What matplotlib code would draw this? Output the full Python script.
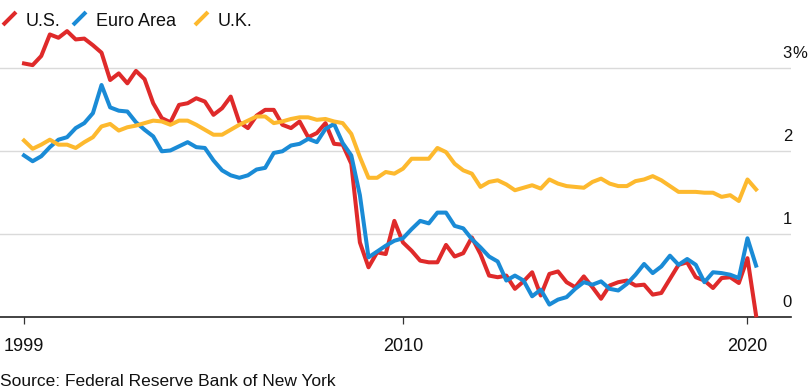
import numpy as np
import matplotlib
matplotlib.use("Agg")
import matplotlib.pyplot as plt
from matplotlib.lines import Line2D
from matplotlib.transforms import Affine2D

plt.rcParams["font.family"] = ["Liberation Sans", "DejaVu Sans"]

# quarterly readings, 1999 Q1 .. 2020 Q2
start_year = 1999
us = [3.06, 3.04, 3.15, 3.41, 3.37, 3.45, 3.35, 3.36, 3.28, 3.19, 2.86, 2.94, 2.82, 2.97, 2.87,
      2.58, 2.40, 2.35, 2.56, 2.58, 2.64, 2.60, 2.44, 2.52, 2.66, 2.35, 2.28, 2.43, 2.50,
      2.50, 2.32, 2.28, 2.36, 2.17, 2.22, 2.34, 2.09, 2.08, 1.85, 0.90, 0.60, 0.78, 0.76, 1.16,
      0.90, 0.80, 0.68, 0.66, 0.66, 0.87, 0.73, 0.77, 0.96, 0.76, 0.50, 0.48, 0.50, 0.34,
      0.43, 0.54, 0.26, 0.52, 0.55, 0.42, 0.36, 0.49, 0.36, 0.22, 0.38, 0.42, 0.44, 0.38,
      0.39, 0.27, 0.29, 0.46, 0.63, 0.66, 0.48, 0.44, 0.35, 0.47, 0.48, 0.41, 0.71, 0.02]
euro = [1.95, 1.88, 1.94, 2.05, 2.14, 2.17, 2.28, 2.34, 2.46, 2.80, 2.53, 2.49, 2.48, 2.35, 2.26,
        2.18, 2.00, 2.01, 2.06, 2.11, 2.05, 2.04, 1.89, 1.77, 1.71, 1.68, 1.71, 1.78, 1.80,
        1.98, 2.00, 2.07, 2.09, 2.15, 2.11, 2.27, 2.33, 2.10, 1.95, 1.47, 0.72, 0.79, 0.86, 0.92,
        0.95, 1.06, 1.16, 1.13, 1.26, 1.26, 1.10, 1.07, 0.94, 0.84, 0.73, 0.67, 0.44, 0.50,
        0.44, 0.25, 0.33, 0.15, 0.21, 0.24, 0.34, 0.42, 0.39, 0.43, 0.34, 0.32, 0.40, 0.51,
        0.64, 0.53, 0.61, 0.74, 0.63, 0.70, 0.63, 0.42, 0.54, 0.53, 0.51, 0.47, 0.95, 0.62]
uk = [2.13, 2.03, 2.08, 2.14, 2.08, 2.08, 2.04, 2.11, 2.17, 2.30, 2.33, 2.25, 2.29, 2.31, 2.34,
      2.37, 2.36, 2.32, 2.37, 2.37, 2.32, 2.26, 2.20, 2.20, 2.26, 2.32, 2.37, 2.42, 2.42,
      2.34, 2.36, 2.39, 2.41, 2.41, 2.38, 2.39, 2.36, 2.34, 2.21, 1.93, 1.68, 1.68, 1.75, 1.73,
      1.79, 1.91, 1.91, 1.91, 2.04, 1.99, 1.85, 1.77, 1.73, 1.57, 1.63, 1.65, 1.60, 1.53,
      1.56, 1.59, 1.55, 1.66, 1.61, 1.58, 1.57, 1.56, 1.63, 1.67, 1.61, 1.58, 1.58, 1.64,
      1.66, 1.70, 1.65, 1.58, 1.51, 1.51, 1.51, 1.50, 1.50, 1.45, 1.47, 1.40, 1.66, 1.54]

series_names = ["U.S.", "Euro Area", "U.K."]
colors = ["#df2a2a", "#1a8bd6", "#fdb92e"]
year_ticks = [1999, 2010, 2020]
y_ticks = [0, 1, 2, 3]

W, H = 811, 389
fig = plt.figure(figsize=(W / 100, H / 100), dpi=100)
ax = fig.add_axes([0, 72 / H, 791 / W, 290 / H])

years = start_year + np.arange(len(us)) / 4
for vals, c in zip([us, euro, uk], colors):
    ax.plot(years, vals, color=c, lw=2.9, clip_on=False, zorder=3)

ax.set_xlim(1998.303, 2021.264)
ax.set_ylim(0, 3.5)

for v in y_ticks[1:]:
    ax.axhline(v, color="#dadada", lw=1.0, zorder=1)

for s in ["top", "left", "right"]:
    ax.spines[s].set_visible(False)
ax.spines["bottom"].set_color("#222222")
ax.spines["bottom"].set_linewidth(1.2)

ax.set_xticks(year_ticks)
ax.set_xticklabels([str(y) for y in year_ticks])
ax.tick_params(axis="x", length=5, width=0.9, color="#333333", pad=10,
               labelsize=13, labelcolor="#111111")
ax.set_yticks([])

# right-hand value labels sitting above each gridline
for v in y_ticks:
    ax.annotate(str(v), xy=(1, v), xycoords=("axes fraction", "data"),
                xytext=(1, 10), textcoords="offset pixels",
                ha="right", va="baseline", fontsize=12, color="#111111")
ax.annotate("%", xy=(1, y_ticks[-1]), xycoords=("axes fraction", "data"),
            xytext=(1, 10), textcoords="offset pixels",
            ha="left", va="baseline", fontsize=12, color="#111111")

# legend drawn by hand at the top left, pixel coords from top-left corner
px = Affine2D().scale(1 / W, -1 / H).translate(0, 1) + fig.transFigure
icon_x = [3, 73, 195]
text_x = [26, 96, 218]
for name, c, ix, tx in zip(series_names, colors, icon_x, text_x):
    fig.add_artist(Line2D([ix, ix + 13], [25, 12], color=c, lw=2.9,
                          solid_capstyle="butt", transform=px))
    fig.text(tx, 26, name, transform=px, fontsize=13, va="baseline",
             color="#111111")

fig.text(0, 386, "Source: Federal Reserve Bank of New York", transform=px,
         fontsize=12.5, va="baseline", color="#111111")

fig.savefig("out.png", dpi=100)
